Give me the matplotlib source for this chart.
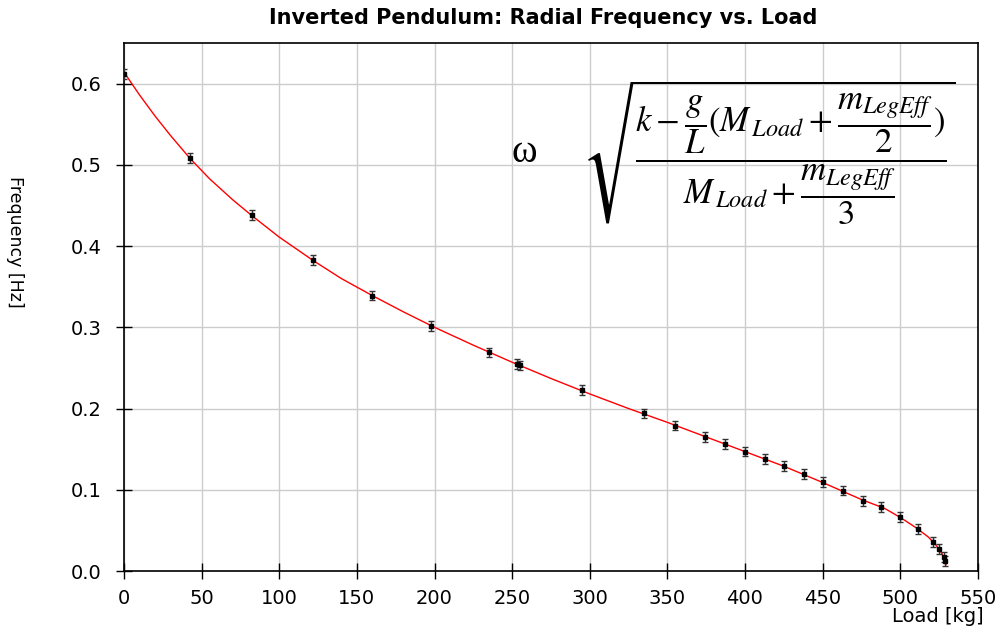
import matplotlib
matplotlib.use('Agg')
import matplotlib.pyplot as plt
import numpy as np

plt.rcParams['font.family'] = ['DejaVu Sans']
plt.rcParams['mathtext.fontset'] = 'stix'

# measured points (load in kg, frequency in Hz)
load = [0, 42.2, 82.3, 121.6, 159.6, 197.8, 235.4, 253.1, 255.3, 295.2,
        334.7, 354.7, 374.4, 387.3, 399.7, 412.6, 425.1, 437.8, 450.4,
        463.1, 475.9, 487.8, 499.8, 511.3, 521.2, 525.1, 528.1, 529.0]
freq = [0.612, 0.508, 0.438, 0.383, 0.339, 0.302, 0.269, 0.2545, 0.253, 0.223,
        0.194, 0.179, 0.165, 0.156, 0.147, 0.138, 0.129, 0.1195, 0.1096,
        0.099, 0.0866, 0.079, 0.0665, 0.052, 0.036, 0.0267, 0.0177, 0.0123]
err = 0.006

# fitted curve
fit_x = [0, 10, 20, 30, 42, 55, 70, 82, 100, 122, 140, 160, 180, 200, 225,
         250, 275, 300, 325, 350, 375, 400, 425, 450, 475, 490, 500, 510,
         518, 523, 527, 529.5]
fit_y = [0.614, 0.586, 0.560, 0.536, 0.509, 0.483, 0.457, 0.438, 0.411, 0.382,
         0.360, 0.339, 0.319, 0.300, 0.278, 0.257, 0.237, 0.218, 0.200, 0.183,
         0.165, 0.147, 0.129, 0.109, 0.088, 0.077, 0.066, 0.0535, 0.042,
         0.032, 0.021, 0.008]

fig = plt.figure(figsize=(10.05, 6.32), dpi=100)
ax = fig.add_axes([0.1234, 0.0965, 0.8496, 0.8355])

ax.plot(fit_x, fit_y, color='red', lw=1.0, zorder=2)
ax.errorbar(load, freq, yerr=err, fmt='s', color='black', ms=3.5,
            ecolor='#333333', elinewidth=1, capsize=2, capthick=1, zorder=3)

ax.set_xlim(0, 550)
ax.set_ylim(0, 0.65)
ax.set_xticks(np.arange(0, 551, 50))
ax.set_yticks(np.arange(0, 0.61, 0.1))
ax.set_yticklabels(['0.0', '0.1', '0.2', '0.3', '0.4', '0.5', '0.6'])
ax.grid(True, color='#cccccc', lw=1)
ax.set_axisbelow(True)
ax.tick_params(direction='inout', length=12, width=1, labelsize=14)
ax.tick_params(axis='x', pad=7)
ax.tick_params(axis='y', pad=10)
for s in ax.spines.values():
    s.set_linewidth(1.2)

fig.text(0.540, 0.971, 'Inverted Pendulum: Radial Frequency vs. Load',
         ha='center', va='center', fontsize=15, fontweight='bold')
fig.text(0.979, 0.016, 'Load [kg]', ha='right', va='baseline', fontsize=14)
fig.text(0.015, 0.617, 'Frequency [Hz]', rotation=270, ha='center', va='center',
         fontsize=12.5)

ax.text(258, 0.515, 'ω', family='Liberation Serif', fontsize=28,
        ha='center', va='center')
ax.text(295, 0.515,
        r'$\sqrt{\dfrac{k-\dfrac{g}{L}(M_{\,Load}+\dfrac{m_{LegEff}}{2})}'
        r'{M_{\,Load}+\dfrac{m_{LegEff}}{3}}}$',
        fontsize=25, ha='left', va='center')

fig.savefig('out.png')
